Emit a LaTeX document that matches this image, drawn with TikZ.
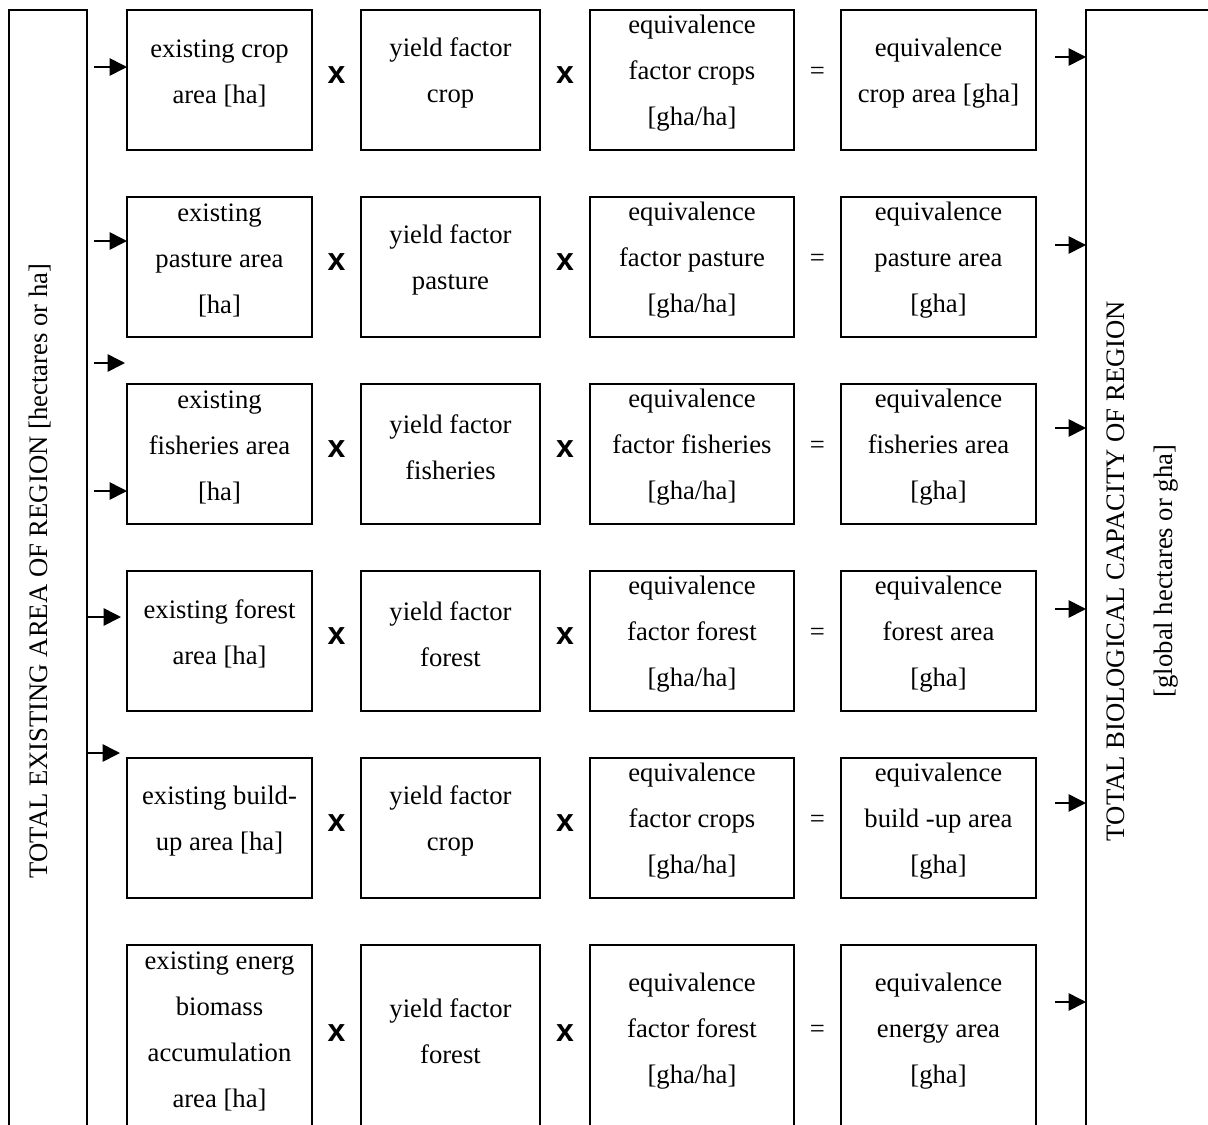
\documentclass[tikz,border=0pt]{standalone}
\usepackage{fontspec}
\setmainfont{Liberation Serif}
\newfontfamily\opfont{Liberation Sans}
\usetikzlibrary{arrows.meta, positioning, calc}

\begin{document}
\begin{tikzpicture}[
  x=0.75pt, y=-0.75pt,
  font=\fontsize{20pt}{34.5pt}\selectfont,
  >={Triangle[length=13pt,width=13pt]},
  cell/.style={draw, line width=1.5pt, minimum width=#1,
               minimum height=105pt, inner sep=0pt, outer sep=0pt},
  txt/.style={align=center, inner sep=0pt},
  op/.style={inner sep=0pt, font=\fontsize{24pt}{28pt}\opfont\bfseries},
  eq/.style={inner sep=0pt},
  frame/.style={draw, line width=1.5pt, inner sep=0pt, outer sep=0pt},
  arr/.style={->, line width=1.2pt},
]
\useasboundingbox (0,0) rectangle (1208,1125);
\clip (0,0) rectangle (1208,1125);

%% ---------- Side frames -----------------------------------------
\node[frame, minimum width=58.5pt, minimum height=855pt] (areabox) at (48,580) {};
\node[txt, rotate=90] (arealbl) at (40,571)
      {TOTAL EXISTING AREA OF REGION [hectares or ha]};
\node[frame, minimum width=108pt, minimum height=855pt] (capbox) at (1158,580) {};
\node[txt, rotate=90, font=\fontsize{20pt}{36pt}\selectfont] (caplbl) at (1143,571)
      {TOTAL BIOLOGICAL CAPACITY OF REGION\\{}[global hectares or gha]};

%% ---------- Row 1: Crop -----------------------------------------
\node[cell=138.75pt] (crop) at (219.5,80) {};
\node[cell=134.25pt, right=36.75pt of crop]     (yieldcrop) {};
\node[cell=153pt,    right=37.5pt of yieldcrop] (eqfcrop)   {};
\node[cell=146.25pt, right=35.25pt of eqfcrop]  (eqcrop)    {};
\node[txt] (crop-t)      at ([yshift=5.25pt]crop.center)      {existing crop\\area [ha]};
\node[txt] (yieldcrop-t) at ([yshift=5.25pt]yieldcrop.center) {yield factor\\crop};
\node[txt] (eqfcrop-t)   at ([yshift=5.25pt]eqfcrop.center)   {equivalence\\factor crops\\{}[gha/ha]};
\node[txt] (eqcrop-t)    at ([yshift=5.25pt]eqcrop.center)    {equivalence\\crop area [gha]};

%% ---------- Row 2: Pasture --------------------------------------
\node[cell=138.75pt, below=35.25pt of crop]      (pasture)      {};
\node[cell=134.25pt, below=35.25pt of yieldcrop] (yieldpasture) {};
\node[cell=153pt,    below=35.25pt of eqfcrop]   (eqfpasture)   {};
\node[cell=146.25pt, below=35.25pt of eqcrop]    (eqpasture)    {};
\node[txt] (pasture-t)      at ([yshift=5.25pt]pasture.center)      {existing\\pasture area\\{}[ha]};
\node[txt] (yieldpasture-t) at ([yshift=5.25pt]yieldpasture.center) {yield factor\\pasture};
\node[txt] (eqfpasture-t)   at ([yshift=5.25pt]eqfpasture.center)   {equivalence\\factor pasture\\{}[gha/ha]};
\node[txt] (eqpasture-t)    at ([yshift=5.25pt]eqpasture.center)    {equivalence\\pasture area\\{}[gha]};

%% ---------- Row 3: Fisheries ------------------------------------
\node[cell=138.75pt, below=35.25pt of pasture]      (fish)      {};
\node[cell=134.25pt, below=35.25pt of yieldpasture] (yieldfish) {};
\node[cell=153pt,    below=35.25pt of eqfpasture]   (eqffish)   {};
\node[cell=146.25pt, below=35.25pt of eqpasture]    (eqfish)    {};
\node[txt] (fish-t)      at ([yshift=5.25pt]fish.center)      {existing\\fisheries area\\{}[ha]};
\node[txt] (yieldfish-t) at ([yshift=5.25pt]yieldfish.center) {yield factor\\fisheries};
\node[txt] (eqffish-t)   at ([yshift=5.25pt]eqffish.center)   {equivalence\\factor fisheries\\{}[gha/ha]};
\node[txt] (eqfish-t)    at ([yshift=5.25pt]eqfish.center)    {equivalence\\fisheries area\\{}[gha]};

%% ---------- Row 4: Forest ---------------------------------------
\node[cell=138.75pt, below=35.25pt of fish]      (forest)      {};
\node[cell=134.25pt, below=35.25pt of yieldfish] (yieldforest) {};
\node[cell=153pt,    below=35.25pt of eqffish]   (eqfforest)   {};
\node[cell=146.25pt, below=35.25pt of eqfish]    (eqforest)    {};
\node[txt] (forest-t)      at ([yshift=5.25pt]forest.center)      {existing forest\\area [ha]};
\node[txt] (yieldforest-t) at ([yshift=5.25pt]yieldforest.center) {yield factor\\forest};
\node[txt] (eqfforest-t)   at ([yshift=5.25pt]eqfforest.center)   {equivalence\\factor forest\\{}[gha/ha]};
\node[txt] (eqforest-t)    at ([yshift=5.25pt]eqforest.center)    {equivalence\\forest area\\{}[gha]};

%% ---------- Row 5: Build-up -------------------------------------
\node[cell=138.75pt, below=35.25pt of forest]      (build)      {};
\node[cell=134.25pt, below=35.25pt of yieldforest] (yieldbuild) {};
\node[cell=153pt,    below=35.25pt of eqfforest]   (eqfbuild)   {};
\node[cell=146.25pt, below=35.25pt of eqforest]    (eqbuild)    {};
\node[txt] (build-t)      at ([yshift=5.25pt]build.center)      {existing build-\\up area [ha]};
\node[txt] (yieldbuild-t) at ([yshift=5.25pt]yieldbuild.center) {yield factor\\crop};
\node[txt] (eqfbuild-t)   at ([yshift=5.25pt]eqfbuild.center)   {equivalence\\factor crops\\{}[gha/ha]};
\node[txt] (eqbuild-t)    at ([yshift=5.25pt]eqbuild.center)    {equivalence\\build -up area\\{}[gha]};

%% ---------- Row 6: Energy ---------------------------------------
\node[cell=138.75pt, minimum height=139.5pt, below=35.25pt of build]      (energy)      {};
\node[cell=134.25pt, minimum height=139.5pt, below=35.25pt of yieldbuild] (yieldenergy) {};
\node[cell=153pt,    minimum height=139.5pt, below=35.25pt of eqfbuild]   (eqfenergy)   {};
\node[cell=146.25pt, minimum height=139.5pt, below=35.25pt of eqbuild]    (eqenergy)    {};
\node[txt] (energy-t)      at ([yshift=5.25pt]energy.center)      {existing energ\\biomass\\accumulation\\area [ha]};
\node[txt] (yieldenergy-t) at ([yshift=5.25pt]yieldenergy.center) {yield factor\\forest};
\node[txt] (eqfenergy-t)   at ([yshift=5.25pt]eqfenergy.center)   {equivalence\\factor forest\\{}[gha/ha]};
\node[txt] (eqenergy-t)    at ([yshift=5.25pt]eqenergy.center)    {equivalence\\energy area\\{}[gha]};

%% ---- Operators -------------------------------------------------
\node[op] (mulcrop1)    at ($(crop.east)!0.5!(yieldcrop.west)+(0,-5)$)        {x};
\node[op] (mulcrop2)    at ($(yieldcrop.east)!0.5!(eqfcrop.west)+(0,-5)$)     {x};
\node[eq] (eqlcrop)     at ($(eqfcrop.east)!0.5!(eqcrop.west)+(0,-7)$)        {=};
\node[op] (mulpasture1) at ($(pasture.east)!0.5!(yieldpasture.west)+(0,-5)$)  {x};
\node[op] (mulpasture2) at ($(yieldpasture.east)!0.5!(eqfpasture.west)+(0,-5)$) {x};
\node[eq] (eqlpasture)  at ($(eqfpasture.east)!0.5!(eqpasture.west)+(0,-7)$)  {=};
\node[op] (mulfish1)    at ($(fish.east)!0.5!(yieldfish.west)+(0,-5)$)        {x};
\node[op] (mulfish2)    at ($(yieldfish.east)!0.5!(eqffish.west)+(0,-5)$)     {x};
\node[eq] (eqlfish)     at ($(eqffish.east)!0.5!(eqfish.west)+(0,-7)$)        {=};
\node[op] (mulforest1)  at ($(forest.east)!0.5!(yieldforest.west)+(0,-5)$)   {x};
\node[op] (mulforest2)  at ($(yieldforest.east)!0.5!(eqfforest.west)+(0,-5)$) {x};
\node[eq] (eqlforest)   at ($(eqfforest.east)!0.5!(eqforest.west)+(0,-7)$)   {=};
\node[op] (mulbuild1)   at ($(build.east)!0.5!(yieldbuild.west)+(0,-5)$)     {x};
\node[op] (mulbuild2)   at ($(yieldbuild.east)!0.5!(eqfbuild.west)+(0,-5)$)  {x};
\node[eq] (eqlbuild)    at ($(eqfbuild.east)!0.5!(eqbuild.west)+(0,-7)$)     {=};
\node[op] (mulenergy1)  at ($(energy.east)!0.5!(yieldenergy.west)+(0,-5)$)   {x};
\node[op] (mulenergy2)  at ($(yieldenergy.east)!0.5!(eqfenergy.west)+(0,-5)$) {x};
\node[eq] (eqlenergy)   at ($(eqfenergy.east)!0.5!(eqenergy.west)+(0,-7)$)   {=};

%% ---- Arrows in -------------------------------------------------
\coordinate (in1) at (94,67);
\coordinate (in2) at (94,241);
\coordinate (in3) at (94,363);  \coordinate (in3e) at (125,363);
\coordinate (in4) at (94,491);
\coordinate (in5) at (88,617);  \coordinate (in5e) at (121,617);
\coordinate (in6) at (88,753);  \coordinate (in6e) at (120,753);
\draw[arr] (in1) -- (in1 -| crop.west);
\draw[arr] (in2) -- (in2 -| pasture.west);
\draw[arr] (in3) -- (in3e);
\draw[arr] (in4) -- (in4 -| fish.west);
\draw[arr] (in5) -- (in5e);
\draw[arr] (in6) -- (in6e);

%% ---- Arrows out ------------------------------------------------
\coordinate (out1) at (1055,57);
\coordinate (out2) at (1055,245);
\coordinate (out3) at (1055,428);
\coordinate (out4) at (1055,609);
\coordinate (out5) at (1055,803);
\coordinate (out6) at (1055,1002);
\draw[arr] (out1) -- (out1 -| capbox.west);
\draw[arr] (out2) -- (out2 -| capbox.west);
\draw[arr] (out3) -- (out3 -| capbox.west);
\draw[arr] (out4) -- (out4 -| capbox.west);
\draw[arr] (out5) -- (out5 -| capbox.west);
\draw[arr] (out6) -- (out6 -| capbox.west);
\end{tikzpicture}
\end{document}
